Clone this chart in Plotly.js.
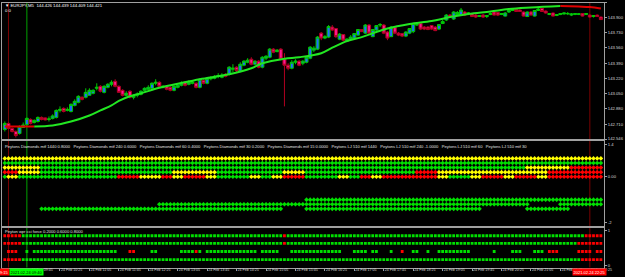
<!DOCTYPE html>
<html><head><meta charset="utf-8">
<script src="https://cdn.plot.ly/plotly-3.0.1.min.js"></script>
<style>html,body{margin:0;padding:0;background:#000;overflow:hidden}#chart{width:625px;height:277px}</style>
</head><body><div id="chart"></div>
<script>
// ---------------- DATA ----------------
const symbolTitle = '\u25BC EURJPY,M5  144.426 144.439 144.409 144.421';
const subTitle = '0 0';
const firstBar = '2021-02-24 09:10';
const barMinutes = 5;

const open = [
142.652,142.719,142.663,142.630,142.607,142.674,142.708,142.764,142.730,142.741,
142.786,142.781,142.764,142.775,142.786,142.864,142.887,142.864,142.853,142.920,
142.954,143.010,143.010,143.032,143.054,143.110,143.132,143.065,143.121,143.155,
143.188,143.132,143.088,143.032,143.077,143.010,143.032,143.043,143.088,143.099,
143.110,143.166,143.177,143.121,143.132,143.121,143.088,143.121,143.144,143.177,
143.155,143.166,143.166,143.121,143.199,143.166,143.216,143.222,143.244,143.233,
143.266,143.266,143.322,143.345,143.300,143.367,143.400,143.434,143.378,143.412,
143.345,143.445,143.456,143.546,143.518,143.546,143.434,143.367,143.333,143.400,
143.412,143.389,143.400,143.445,143.535,143.546,143.724,143.669,143.680,143.791,
143.775,143.657,143.708,143.635,143.657,143.669,143.702,143.764,143.724,143.814,
143.685,143.758,143.814,143.814,143.736,143.685,143.786,143.724,143.719,143.691,
143.724,143.741,143.814,143.831,143.791,143.791,143.808,143.791,143.769,143.831,
143.870,143.925,143.881,143.931,143.925,143.959,143.937,143.937,143.925,143.909,
143.925,143.909,143.931,143.959,143.953,143.931,143.914,143.959,143.976,143.987,
143.981,143.959,143.909,143.959,143.914,143.976,143.998,143.970,143.931,143.948,
143.920,143.931,143.937,143.939,143.925,143.931,143.931,143.942,143.931,143.925,
143.909,143.925,143.903];
const high = [
142.741,142.730,142.674,142.641,142.697,142.730,142.786,142.775,142.764,142.797,
142.797,142.786,142.797,142.820,142.875,142.909,142.898,142.898,142.943,142.987,
143.032,143.021,143.110,143.110,143.099,143.166,143.144,143.144,143.166,143.199,
143.211,143.144,143.099,143.077,143.088,143.043,143.065,143.088,143.121,143.144,
143.177,143.211,143.188,143.144,143.144,143.132,143.144,143.155,143.188,143.188,
143.199,143.199,143.177,143.222,143.211,143.233,143.244,143.255,143.278,143.278,
143.278,143.356,143.378,143.356,143.400,143.423,143.445,143.456,143.423,143.423,
143.467,143.479,143.557,143.557,143.546,143.557,143.501,143.389,143.423,143.434,
143.423,143.423,143.467,143.579,143.579,143.691,143.736,143.702,143.814,143.814,
143.780,143.724,143.713,143.669,143.702,143.724,143.769,143.769,143.825,143.825,
143.769,143.814,143.836,143.825,143.747,143.803,143.791,143.736,143.724,143.747,
143.780,143.836,143.836,143.836,143.803,143.803,143.814,143.803,143.825,143.870,
143.937,143.937,143.970,143.970,144.004,143.970,143.959,143.948,143.937,143.925,
143.937,143.925,143.953,143.970,143.959,143.948,143.959,143.981,143.992,143.992,
143.987,143.965,143.965,143.970,143.981,144.004,144.004,143.976,143.948,143.953,
143.937,143.948,143.953,143.959,143.948,143.948,143.948,143.948,143.948,143.931,
143.925,143.931,143.909];
const low = [
142.630,142.652,142.619,142.563,142.596,142.674,142.686,142.708,142.719,142.730,
142.753,142.753,142.741,142.764,142.775,142.842,142.842,142.853,142.842,142.909,
142.943,142.976,142.998,143.032,143.043,143.088,143.065,143.054,143.110,143.132,
143.121,143.065,143.021,143.021,142.998,142.987,143.010,143.032,143.077,143.088,
143.099,143.144,143.121,143.110,143.088,143.077,143.077,143.110,143.132,143.132,
143.144,143.155,143.110,143.110,143.155,143.155,143.199,143.211,143.222,143.222,
143.233,143.255,143.289,143.289,143.289,143.356,143.389,143.367,143.367,143.333,
143.333,143.423,143.445,143.501,143.512,143.423,142.909,143.311,143.322,143.378,
143.356,143.367,143.389,143.434,143.512,143.535,143.646,143.657,143.669,143.747,
143.669,143.646,143.635,143.624,143.646,143.657,143.691,143.736,143.713,143.713,
143.680,143.747,143.791,143.713,143.646,143.680,143.713,143.691,143.680,143.680,
143.713,143.724,143.803,143.758,143.758,143.758,143.758,143.747,143.758,143.825,
143.858,143.892,143.870,143.925,143.925,143.914,143.925,143.903,143.892,143.903,
143.892,143.892,143.925,143.920,143.914,143.925,143.909,143.948,143.970,143.959,
143.959,143.909,143.903,143.920,143.909,143.970,143.959,143.942,143.925,143.909,
143.914,143.925,143.931,143.925,143.914,143.925,143.925,143.909,143.925,143.898,
143.898,143.903,143.870];
const close = [
142.719,142.663,142.630,142.585,142.686,142.702,142.775,142.719,142.753,142.786,
142.764,142.758,142.769,142.803,142.864,142.875,142.853,142.875,142.931,142.965,
143.021,142.987,143.065,143.088,143.088,143.121,143.077,143.132,143.155,143.177,
143.132,143.065,143.032,143.054,143.010,143.021,143.043,143.077,143.110,143.121,
143.166,143.177,143.132,143.132,143.099,143.088,143.132,143.144,143.166,143.144,
143.177,143.177,143.121,143.211,143.166,143.222,143.222,143.244,143.250,143.255,
143.244,143.345,143.333,143.306,143.378,143.412,143.423,143.378,143.412,143.345,
143.456,143.467,143.546,143.512,143.535,143.434,143.367,143.333,143.400,143.412,
143.367,143.412,143.456,143.568,143.557,143.680,143.669,143.685,143.797,143.758,
143.685,143.713,143.646,143.657,143.680,143.719,143.764,143.741,143.814,143.724,
143.764,143.808,143.819,143.724,143.669,143.791,143.724,143.702,143.691,143.736,
143.775,143.831,143.825,143.769,143.769,143.764,143.769,143.752,143.819,143.853,
143.925,143.903,143.959,143.953,143.981,143.925,143.948,143.909,143.903,143.920,
143.903,143.920,143.942,143.925,143.925,143.942,143.948,143.976,143.987,143.965,
143.965,143.914,143.959,143.925,143.976,143.992,143.965,143.948,143.942,143.914,
143.931,143.942,143.948,143.942,143.937,143.942,143.939,143.914,143.942,143.903,
143.920,143.909,143.875];

// moving average line (sampled bars), and its trend for each segment ending at that sample
const maBars = [0,4,8,13,18,23,26,29,31,34,37,42,47,53,61,67,70,76,80,86,89,93,97,101,104,110,116,121,126,132,137,143,151,156,159,162];
const maValues = [142.686,142.686,142.686,142.697,142.741,142.808,142.864,142.920,142.970,143.021,
143.054,143.116,143.160,143.211,143.266,143.333,143.389,143.440,143.456,143.501,
143.562,143.635,143.680,143.736,143.775,143.825,143.858,143.903,143.937,143.965,
143.992,144.009,144.026,144.020,144.015,143.998];
const maTrend = ['dn','dn','dn','up','up','up','up','up','up','up','up','up','up','up','up','up','up','up','up','up',
'up','up','up','up','up','up','up','up','up','up','up','up','up','dn','dn','dn'];

const priceTicks = [144.065,143.900,143.730,143.560,143.390,143.220,143.050,142.880,142.710,142.546];

// Peytons Diamonds rows (run-length: Y yellow, G green, R red, _ none)
const diamondLabel = 'Peytons Diamonds mtf 1440 0.8000   Peytons Diamonds mtf 240 0.6000   Peytons Diamonds mtf 60 0.4000   Peytons Diamonds mtf 30 0.2000   Peytons Diamonds mtf 15 0.0000   Peytons LJ 510 mtf 1440   Peytons LJ 510 mtf 240 -1.0000   Peytons LJ 510 mtf 60   Peytons LJ 510 mtf 30';
const diamondLevels = [0.8, 0.6, 0.4, 0.2, 0.0];
const diamondRows = [
 'Y163',
 'G163',
 'Y10 G132 Y12 R9',
 'R4 Y6 G36 Y12 G18 Y6 G30 R6 Y30 R15',
 'G1 Y3 G27 R6 Y6 R3 Y3 R6 Y3 G9 Y3 G3 Y3 R6 G9 Y3 G3 R3 Y3 R15 Y3 G6 Y3 R6 Y3 R6 Y3 R15'
];
const ljLevels = [-1.0, -1.2, -1.4];
const ljRows = ['_82 G81', '_42 G101 _8 G12', '_10 G66 _6 G48 _12 G12 _9'];
const diamondTicks = [1.4, 0, -2];
const diamondTickText = ['1.4', '0.00', '-2'];

// Peyton wpr cci force rows
const wccLabel = 'Peyton wpr cci force 0.2000 0.6000 0.8000';
const wccLevels = [0.85, 0.63, 0.40, 0.17];
const wccRows = [
 'R5 G71 R1 G81 R5',
 'R5 G71 R1 G79 R7',
 '_1 R3 _2 G1 _1 G23 _3 R2 _4 G2 _6 G4 R1 G1 _1 G14 _1 G5 _3 G14 _3 G4 _1 G2 _3 G1 _2 R1 _2 G2 _2 G1 _2 G9 _6 G1 _4 G3 _3 G3 _1 R3 _5 R4 _1 R2',
 'R5 G152 R6'
];
const wccTicks = [1, 0];
const wccTickText = ['1', '0'];

// time axis labels
const tickTimes = ['09:45','10:25','11:05','11:45','12:25','13:05','13:45','14:25','15:05','15:45','16:25','17:05','17:45','18:25','19:05','19:45','20:25','21:05','21:45','22:25'];
const tickDay = '24 Feb';
const dateStr = '2021-02-24';
// vertical marker lines (time, kind) and their labels
const vLines = [['09:15','red'], ['09:40','green'], ['22:25','red']];
const vLabels = ['2021.02.24 09:15', '2021.02.24 09:40', '2021.02.24 22:25'];

// ---------------- BUILD ----------------
const N = open.length;
const t0 = new Date(firstBar.replace(' ', 'T') + ':00Z').getTime();
function barTime(i){ return new Date(t0 + i * barMinutes * 60000).toISOString().slice(0,19).replace('T',' '); }
const times = Array.from({length:N}, (_, i) => barTime(i));
function decodeRuns(s){ return s.trim().split(/\s+/).flatMap(tok => Array(parseInt(tok.slice(1),10)).fill(tok[0])); }

const COL = {Y:'#FFFF00', G:'#00E000', R:'#FF0000'};
const W = 625, H = 277, ML = 2, MR = 21;
function px(xp){ return (xp - ML) / (W - ML - MR); }
function py(yp){ return (H - yp) / H; }

const traces = [];
traces.push({
  type:'candlestick', x: times, open, high, low, close,
  xaxis:'x2', yaxis:'y', hoverinfo:'skip', whiskerwidth:0,
  increasing:{line:{color:'#00C800', width:1}, fillcolor:'#1E6BFF'},
  decreasing:{line:{color:'#B00020', width:1}, fillcolor:'#FF1493'}
});
// MA segments
let seg = null;
for (let k = 1; k < maBars.length; k++) {
  const tr = maTrend[k];
  if (!seg || seg.trend !== tr) {
    seg = {trend: tr, x:[times[maBars[k-1]]], y:[maValues[k-1]]};
    traces.push({type:'scatter', mode:'lines', xaxis:'x2', yaxis:'y', hoverinfo:'skip',
      x: seg.x, y: seg.y, line:{color: tr === 'up' ? '#22E622' : '#E00000', width:2, shape:'spline', smoothing:1}});
  }
  seg.x.push(times[maBars[k]]); seg.y.push(maValues[k]);
}

function rowTraces(rows, levels, xa, ya, symbol, size){
  rows.forEach((row, r) => {
    const codes = decodeRuns(row);
    ['G','Y','R'].forEach(c => {
      const xs = [], ys = [];
      codes.forEach((cc, i) => { if (cc === c) { xs.push(times[i]); ys.push(levels[r]); } });
      if (xs.length) traces.push({type:'scatter', mode:'markers', x: xs, y: ys, xaxis: xa, yaxis: ya, hoverinfo:'skip',
        marker:{symbol, size, color: COL[c], line:{width:0}}});
    });
  });
}
rowTraces(diamondRows, diamondLevels, 'x3', 'y2', 'diamond', 3.6);
rowTraces(ljRows, ljLevels, 'x3', 'y2', 'diamond', 3.6);
rowTraces(wccRows, wccLevels, 'x', 'y3', 'square', 2.8);

const frame = '#A0A0A0';
const font = 'Liberation Sans, Arial, sans-serif';
const xRange = [barTime(-0.76), barTime(162.85)];
const xCommon = {type:'date', range: xRange, showgrid:false, zeroline:false, showline:true, mirror:true,
  linecolor: frame, linewidth:1, fixedrange:true, rangeslider:{visible:false}};
const yCommon = {side:'right', showgrid:false, zeroline:false, showline:true, mirror:true, linecolor: frame, linewidth:1,
  ticks:'outside', ticklen:2, tickcolor: frame, tickfont:{family: font, size:4.2, color:'#D8D8D8'}, tickmode:'array', fixedrange:true};

const shapes = vLines.map(([tm, kind]) => ({type:'line', xref:'x', yref:'paper', x0: dateStr+' '+tm, x1: dateStr+' '+tm,
  y0: py(267.5), y1: py(2.5), layer:'below', line:{color: kind === 'red' ? '#7A0000' : '#00A000', width:1}}));

const annotations = [
  {text: symbolTitle, x: px(3), y: py(5.2), xref:'paper', yref:'paper', xanchor:'left', yanchor:'middle', showarrow:false, font:{family:font, size:4.3, color:'#FFFFFF'}},
  {text: subTitle, x: px(3), y: py(10.5), xref:'paper', yref:'paper', xanchor:'left', yanchor:'middle', showarrow:false, font:{family:font, size:4.3, color:'#FFFFFF'}},
  {text: diamondLabel, x: px(3), y: py(146.5), xref:'paper', yref:'paper', xanchor:'left', yanchor:'middle', showarrow:false, font:{family:font, size:4.1, color:'#E0E0E0'}},
  {text: wccLabel, x: px(3), y: py(231), xref:'paper', yref:'paper', xanchor:'left', yanchor:'middle', showarrow:false, font:{family:font, size:4.1, color:'#E0E0E0'}},
];
// time labels of the vertical lines (the left one is only partly inside the window)
vLines.forEach(([tm, kind], k) => {
  const a = {text: vLabels[k], xref:'x', x: dateStr+' '+tm, y: py(272.3), yref:'paper', xanchor:'center', yanchor:'middle', showarrow:false,
    bgcolor: kind === 'red' ? '#FF0000' : '#00FF00', borderpad:0.6,
    font:{family:font, size:4.0, color: kind === 'red' ? '#FFFFFF' : '#000000'}};
  if (k === 0) { a.xref = 'paper'; a.x = px(9.5); a.xanchor = 'right'; }
  annotations.push(a);
});

const layout = {
  width: W, height: H, margin:{l:ML, r:MR, t:0, b:0, pad:0},
  paper_bgcolor:'#000000', plot_bgcolor:'#000000', showlegend:false,
  boxgap:0.18, boxgroupgap:0,
  xaxis: Object.assign({}, xCommon, {anchor:'y3', ticks:'outside', ticklen:2, tickcolor: frame,
    tickmode:'array', tickvals: tickTimes.map(t => dateStr+' '+t), ticktext: tickTimes.map(t => tickDay+' '+t),
    tickangle:0, ticklabelposition:'outside right', ticklabelstandoff:-2, tickfont:{family:font, size:3.6, color:'#D8D8D8'}}),
  xaxis2: Object.assign({}, xCommon, {anchor:'y', matches:'x', showticklabels:false, ticks:''}),
  xaxis3: Object.assign({}, xCommon, {anchor:'y2', matches:'x', showticklabels:false, ticks:''}),
  yaxis: Object.assign({}, yCommon, {domain:[py(139), py(2.5)], anchor:'x2', range:[142.546, 144.065],
    tickvals: priceTicks, ticktext: priceTicks.map(v => v.toFixed(3))}),
  yaxis2: Object.assign({}, yCommon, {domain:[py(226), py(141)], anchor:'x3', range:[-2.15, 1.56],
    tickvals: diamondTicks, ticktext: diamondTickText}),
  yaxis3: Object.assign({}, yCommon, {domain:[py(267.5), py(227.5)], anchor:'x', range:[-0.057, 1.086],
    tickvals: wccTicks, ticktext: wccTickText}),
  shapes, annotations
};
Plotly.newPlot('chart', traces, layout, {staticPlot:true, displayModeBar:false});
</script></body></html>
